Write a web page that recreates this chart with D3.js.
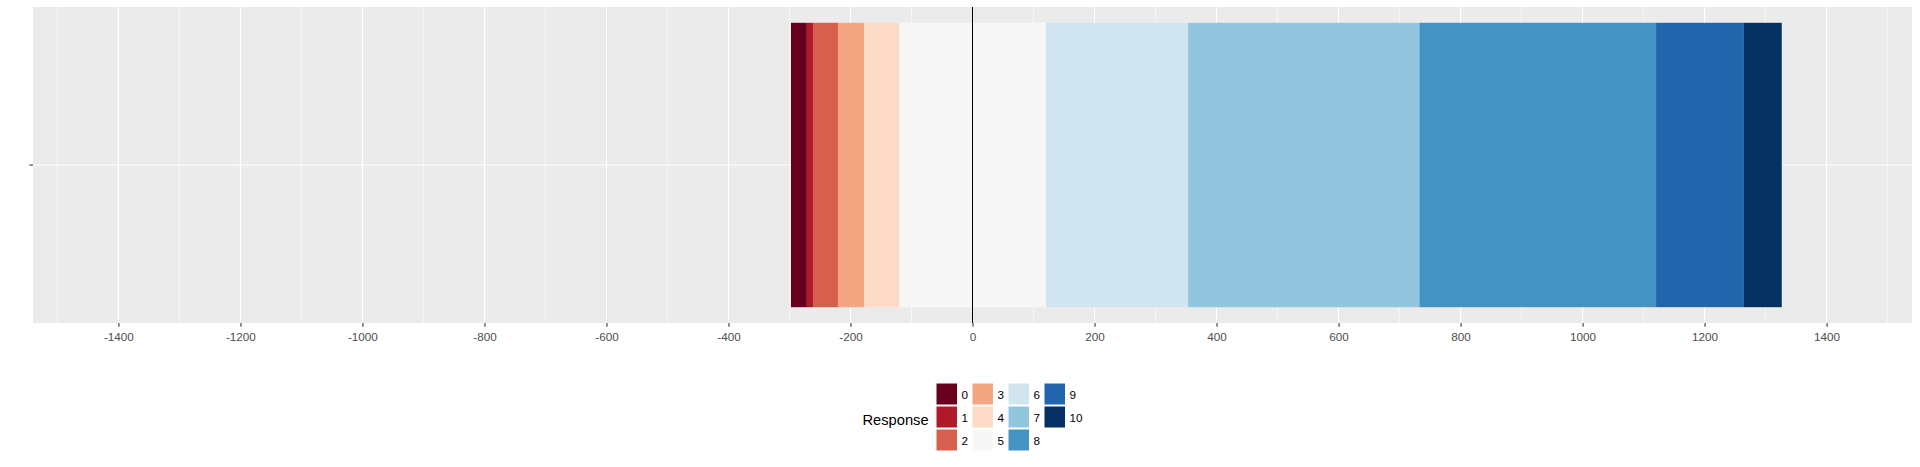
<!DOCTYPE html>
<html>
<head>
<meta charset="utf-8">
<script src="https://cdn.jsdelivr.net/npm/d3@7"></script>
<style>
html,body{margin:0;padding:0;background:#fff;}
svg{display:block;font-family:"Liberation Sans",Arial,sans-serif;}
</style>
</head>
<body>
<svg id="chart" width="1920" height="467"></svg>
<script>
// ---- data ----
const responses = ["0","1","2","3","4","5","6","7","8","9","10"];
const counts    = [26, 10, 41, 43, 57, 241, 233, 379, 388, 144, 62];
const colors    = ["#67001f","#b2182b","#d6604d","#f4a582","#fddbc7","#f7f7f7",
                   "#d1e5f0","#92c5de","#4393c3","#2166ac","#053061"];
const categories = [""];
const xTicks = [-1400,-1200,-1000,-800,-600,-400,-200,0,200,400,600,800,1000,1200,1400];
const xMinor = [-1500,-1300,-1100,-900,-700,-500,-300,-100,100,300,500,700,900,1100,1300,1500];
const xLimits = [-1400, 1400];
const legendTitle = "Response";

// ---- layout ----
const svg = d3.select("#chart");
const panel = {left:33, right:1912, top:7, bottom:323};

const span = xLimits[1]-xLimits[0];
const x = d3.scaleLinear()
  .domain([xLimits[0]-0.1*span/2, xLimits[1]+0.1*span/2])
  .range([panel.left, panel.right]);
const y = d3.scaleBand().domain(categories)
  .range([panel.top, panel.bottom]).paddingInner(0.1).paddingOuter(0.05);

// panel background
svg.append("rect").attr("x",panel.left).attr("y",panel.top)
  .attr("width",panel.right-panel.left).attr("height",panel.bottom-panel.top)
  .attr("fill","#ebebeb");

// grid
const g = svg.append("g");
g.selectAll("line.minor").data(xMinor).join("line")
  .attr("x1",d=>x(d)).attr("x2",d=>x(d)).attr("y1",panel.top).attr("y2",panel.bottom)
  .attr("stroke","#fff").attr("stroke-width",0.55);
g.selectAll("line.major").data(xTicks).join("line")
  .attr("x1",d=>x(d)).attr("x2",d=>x(d)).attr("y1",panel.top).attr("y2",panel.bottom)
  .attr("stroke","#fff").attr("stroke-width",1.1);
g.selectAll("line.ymajor").data(categories).join("line")
  .attr("x1",panel.left).attr("x2",panel.right)
  .attr("y1",d=>y(d)+y.bandwidth()/2).attr("y2",d=>y(d)+y.bandwidth()/2)
  .attr("stroke","#fff").attr("stroke-width",1.1);

// bars: diverging stack with middle category split at 0
const mid = 5;
let start = -(d3.sum(counts.slice(0,mid)) + counts[mid]/2);
const segs = counts.map((c,i)=>{const s={r:responses[i],x0:start,x1:start+c,c:colors[i]}; start+=c; return s;});
svg.append("g").selectAll("rect").data(segs).join("rect")
  .attr("x",d=>x(d.x0)).attr("width",d=>x(d.x1)-x(d.x0))
  .attr("y",y(categories[0])).attr("height",y.bandwidth())
  .attr("fill",d=>d.c);

// zero line
svg.append("line").attr("x1",x(0)).attr("x2",x(0))
  .attr("y1",panel.top).attr("y2",panel.bottom)
  .attr("stroke","#000").attr("stroke-width",1);

// x axis
const xAxis = d3.axisBottom(x).tickValues(xTicks).tickSize(3.7).tickPadding(3).tickFormat(d=>String(d));
const ax = svg.append("g").attr("transform",`translate(0,${panel.bottom})`).call(xAxis);
ax.select(".domain").remove();
ax.selectAll(".tick line").attr("stroke","#333").attr("stroke-width",1.07);
ax.selectAll(".tick text").attr("fill","#4d4d4d").attr("font-size","11.7px")
  .attr("font-family","'Liberation Sans',Arial,sans-serif").attr("dy","0.95em");

// y axis (tick only, blank label)
const yAxis = d3.axisLeft(y).tickSize(3.7).tickPadding(2);
const ay = svg.append("g").attr("transform",`translate(${panel.left},0)`).call(yAxis);
ay.select(".domain").remove();
ay.selectAll(".tick line").attr("stroke","#333").attr("stroke-width",1.07);

// legend
const leg = svg.append("g");
leg.append("text").attr("x",862.5).attr("y",419.5).attr("dy","0.35em")
  .attr("font-size","14.7px").attr("fill","#000").text(legendTitle);
const nrow = 3, colX0 = 936, colStep = 36, rowY0 = 383, rowStep = 23, kw = 21.5, kh = 22;
const items = responses.map((r,i)=>({r, c:colors[i], col:Math.floor(i/nrow), row:i%nrow}));
leg.selectAll("rect").data(items).join("rect")
  .attr("x",d=>colX0+d.col*colStep).attr("y",d=>rowY0+d.row*rowStep)
  .attr("width",kw).attr("height",kh).attr("fill",d=>d.c)
  .attr("stroke","#fff").attr("stroke-width",1);
leg.selectAll("text.lab").data(items).join("text").attr("class","lab")
  .attr("x",d=>colX0+d.col*colStep+kw+4).attr("y",d=>rowY0+d.row*rowStep+kh/2+1)
  .attr("dy","0.35em").attr("font-size","11.7px").attr("fill","#000").text(d=>d.r);
</script>
</body>
</html>
